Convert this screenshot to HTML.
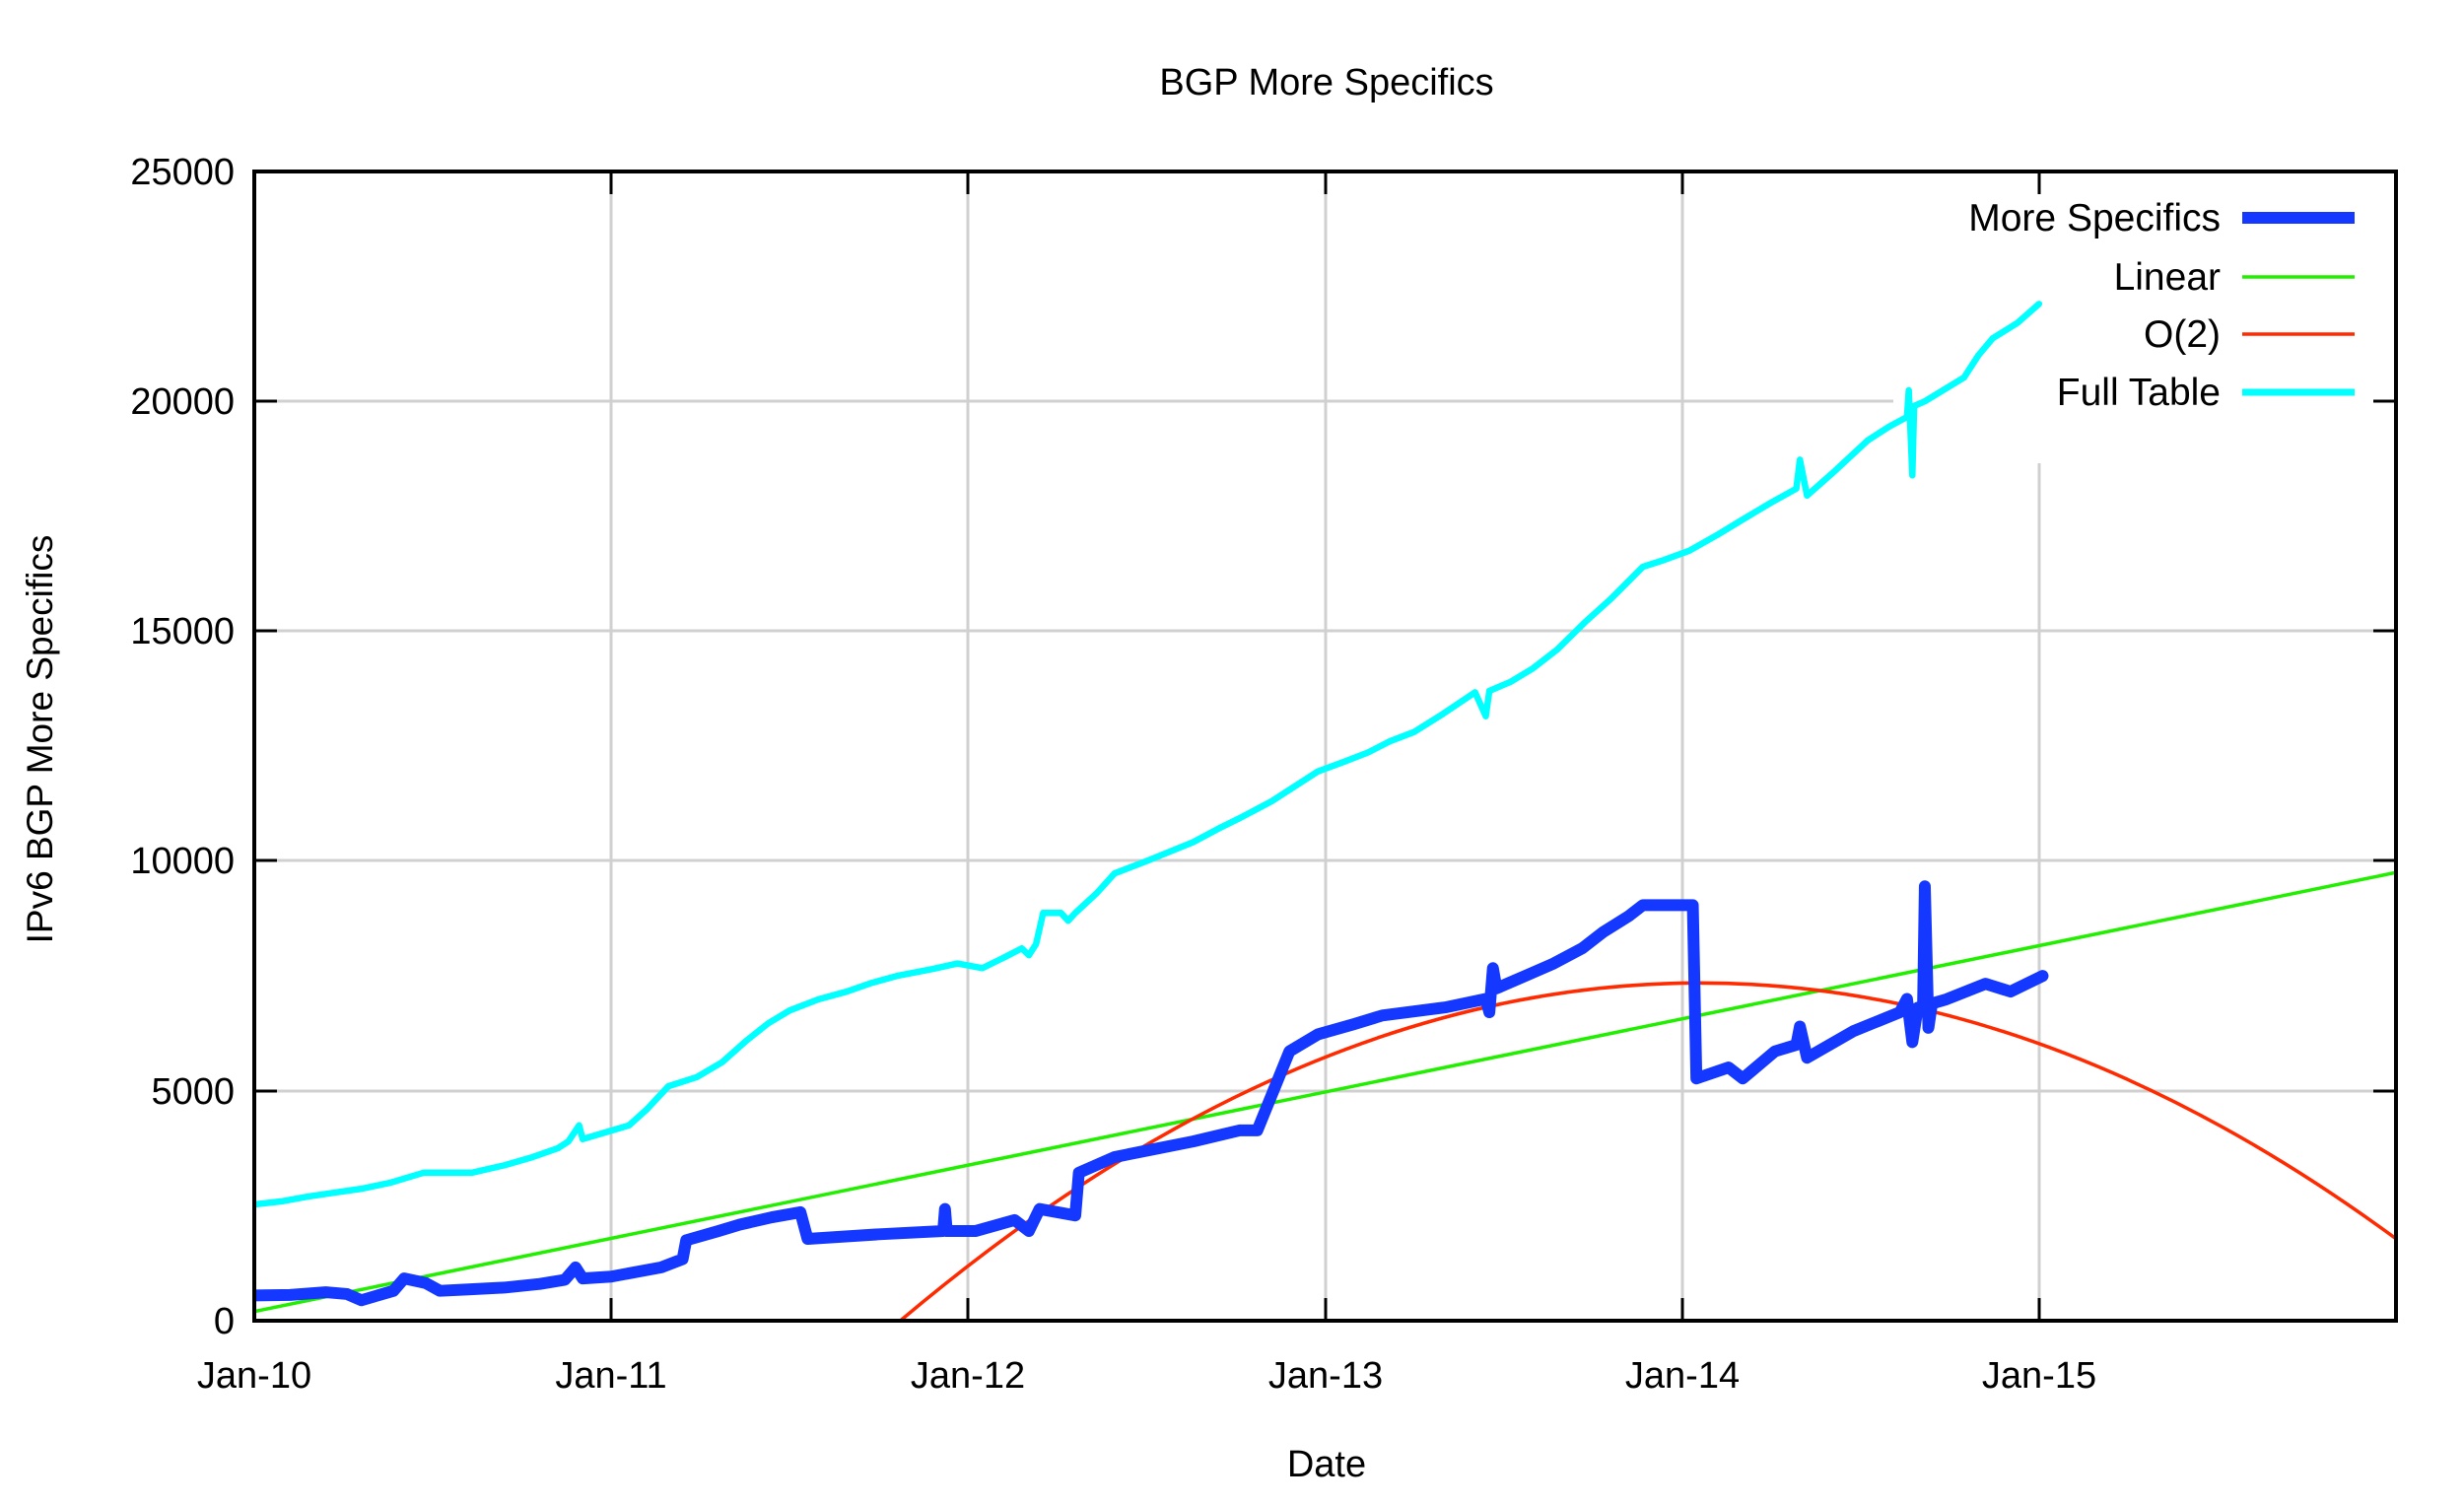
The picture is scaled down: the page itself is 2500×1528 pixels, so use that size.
<!DOCTYPE html>
<html><head><meta charset="utf-8"><style>
html,body{margin:0;padding:0;background:#fff;}
svg{display:block;}
text{font-family:"Liberation Sans",Arial,sans-serif;fill:#000;}
</style></head><body>
<svg width="2500" height="1528" viewBox="0 0 2500 1528" xmlns="http://www.w3.org/2000/svg">
<defs><clipPath id="pc"><rect x="258" y="174" width="2173" height="1166"/></clipPath></defs>
<rect width="2500" height="1528" fill="#fff"/>
<g stroke="#d0d0d0" stroke-width="3">
<line x1="620" y1="174" x2="620" y2="1340"/>
<line x1="982" y1="174" x2="982" y2="1340"/>
<line x1="1345" y1="174" x2="1345" y2="1340"/>
<line x1="1707" y1="174" x2="1707" y2="1340"/>
<line x1="2069" y1="174" x2="2069" y2="1340"/>
<line x1="258" y1="1107" x2="2431" y2="1107"/>
<line x1="258" y1="873" x2="2431" y2="873"/>
<line x1="258" y1="640" x2="2431" y2="640"/>
<line x1="258" y1="407" x2="2431" y2="407"/>
</g>
<rect x="1921" y="180" width="492" height="290" fill="#fff"/>
<g clip-path="url(#pc)">
<g transform="translate(258,1340) scale(362.17,-0.04664)" fill="none" stroke-linejoin="round" stroke-linecap="round">
<polyline vector-effect="non-scaling-stroke" stroke="#00ffff" stroke-width="6.5" points="0,2530 0.08,2600 0.15,2700 0.22,2780 0.3,2870 0.38,3000 0.475,3220 0.61,3220 0.7,3380 0.78,3560 0.85,3750 0.88,3900 0.91,4250 0.92,3950 1.05,4250 1.1,4600 1.16,5100 1.24,5300 1.31,5620 1.38,6100 1.44,6470 1.5,6750 1.58,6990 1.66,7160 1.73,7350 1.8,7500 1.9,7650 1.97,7770 2.04,7670 2.1,7900 2.15,8100 2.17,7950 2.19,8190 2.21,8870 2.26,8870 2.28,8700 2.30,8870 2.36,9300 2.41,9730 2.5,10000 2.63,10410 2.7,10700 2.76,10930 2.85,11300 2.98,11950 3.05,12150 3.12,12360 3.18,12600 3.25,12810 3.33,13200 3.42,13670 3.45,13150 3.46,13700 3.52,13900 3.58,14180 3.65,14600 3.73,15210 3.8,15700 3.89,16400 3.95,16550 4.02,16750 4.1,17100 4.17,17430 4.25,17800 4.32,18100 4.33,18730 4.35,17950 4.43,18500 4.52,19150 4.58,19450 4.63,19660 4.635,20240 4.645,18390 4.65,19900 4.68,20000 4.79,20520 4.83,21000 4.87,21370 4.94,21710 5.0,22120"/>
<line vector-effect="non-scaling-stroke" stroke="#22ee00" stroke-width="3.5" x1="0" y1="200" x2="6" y2="9750"/>
<path vector-effect="non-scaling-stroke" stroke="#ff2a00" stroke-width="3.5" d="M1.81 0 Q3.905 13741 6 1783"/>
<polyline vector-effect="non-scaling-stroke" stroke="#1438ff" stroke-width="12" points="0,550 0.1,560 0.2,620 0.26,580 0.3,445 0.39,650 0.42,920 0.48,820 0.52,650 0.6,680 0.70,720 0.8,800 0.87,890 0.9,1160 0.92,920 1.0,960 1.14,1160 1.2,1340 1.21,1750 1.3,1950 1.36,2090 1.45,2250 1.53,2360 1.55,1780 1.75,1880 1.93,1950 1.935,2430 1.94,1950 2.02,1950 2.13,2190 2.17,1950 2.2,2430 2.3,2290 2.31,3220 2.41,3560 2.5,3700 2.63,3900 2.76,4140 2.81,4140 2.90,5860 2.98,6230 3.08,6450 3.16,6640 3.34,6820 3.45,7000 3.46,6710 3.47,7670 3.48,7230 3.56,7500 3.64,7770 3.72,8100 3.78,8460 3.85,8800 3.89,9040 3.95,9040 4.03,9040 4.04,5270 4.13,5510 4.17,5270 4.26,5860 4.32,6000 4.33,6400 4.35,5720 4.48,6300 4.61,6710 4.63,7000 4.645,6060 4.66,6810 4.675,6810 4.68,9450 4.69,6370 4.70,6900 4.74,6990 4.85,7330 4.92,7160 5.01,7500"/>
</g>
</g>
<g stroke="#000" stroke-width="3">
<line x1="620" y1="1340" x2="620" y2="1317"/><line x1="620" y1="174" x2="620" y2="197"/>
<line x1="982" y1="1340" x2="982" y2="1317"/><line x1="982" y1="174" x2="982" y2="197"/>
<line x1="1345" y1="1340" x2="1345" y2="1317"/><line x1="1345" y1="174" x2="1345" y2="197"/>
<line x1="1707" y1="1340" x2="1707" y2="1317"/><line x1="1707" y1="174" x2="1707" y2="197"/>
<line x1="2069" y1="1340" x2="2069" y2="1317"/><line x1="2069" y1="174" x2="2069" y2="197"/>
<line x1="258" y1="1107" x2="281" y2="1107"/><line x1="2431" y1="1107" x2="2408" y2="1107"/>
<line x1="258" y1="873" x2="281" y2="873"/><line x1="2431" y1="873" x2="2408" y2="873"/>
<line x1="258" y1="640" x2="281" y2="640"/><line x1="2431" y1="640" x2="2408" y2="640"/>
<line x1="258" y1="407" x2="281" y2="407"/><line x1="2431" y1="407" x2="2408" y2="407"/>
</g>
<rect x="258" y="174" width="2173" height="1166" fill="none" stroke="#000" stroke-width="4"/>
<g font-size="38" text-anchor="end">
<text x="238" y="1353">0</text>
<text x="238" y="1120">5000</text>
<text x="238" y="886">10000</text>
<text x="238" y="653">15000</text>
<text x="238" y="420">20000</text>
<text x="238" y="187">25000</text>
</g>
<g font-size="38" text-anchor="middle">
<text x="258" y="1408">Jan-10</text>
<text x="620" y="1408">Jan-11</text>
<text x="982" y="1408">Jan-12</text>
<text x="1345" y="1408">Jan-13</text>
<text x="1707" y="1408">Jan-14</text>
<text x="2069" y="1408">Jan-15</text>
<text x="1346" y="96">BGP More Specifics</text>
<text x="1346" y="1498">Date</text>
<text transform="translate(53,750) rotate(-90)" font-size="37">IPv6 BGP More Specifics</text>
</g>
<g font-size="39" text-anchor="end">
<text x="2253" y="234">More Specifics</text>
<text x="2253" y="294">Linear</text>
<text x="2253" y="352">O(2)</text>
<text x="2253" y="411">Full Table</text>
</g>
<line x1="2275" y1="221" x2="2389" y2="221" stroke="#1438ff" stroke-width="12"/>
<line x1="2275" y1="281" x2="2389" y2="281" stroke="#22ee00" stroke-width="3.5"/>
<line x1="2275" y1="339" x2="2389" y2="339" stroke="#ff2a00" stroke-width="3.5"/>
<line x1="2275" y1="398" x2="2389" y2="398" stroke="#00ffff" stroke-width="7"/>
</svg>
</body></html>
